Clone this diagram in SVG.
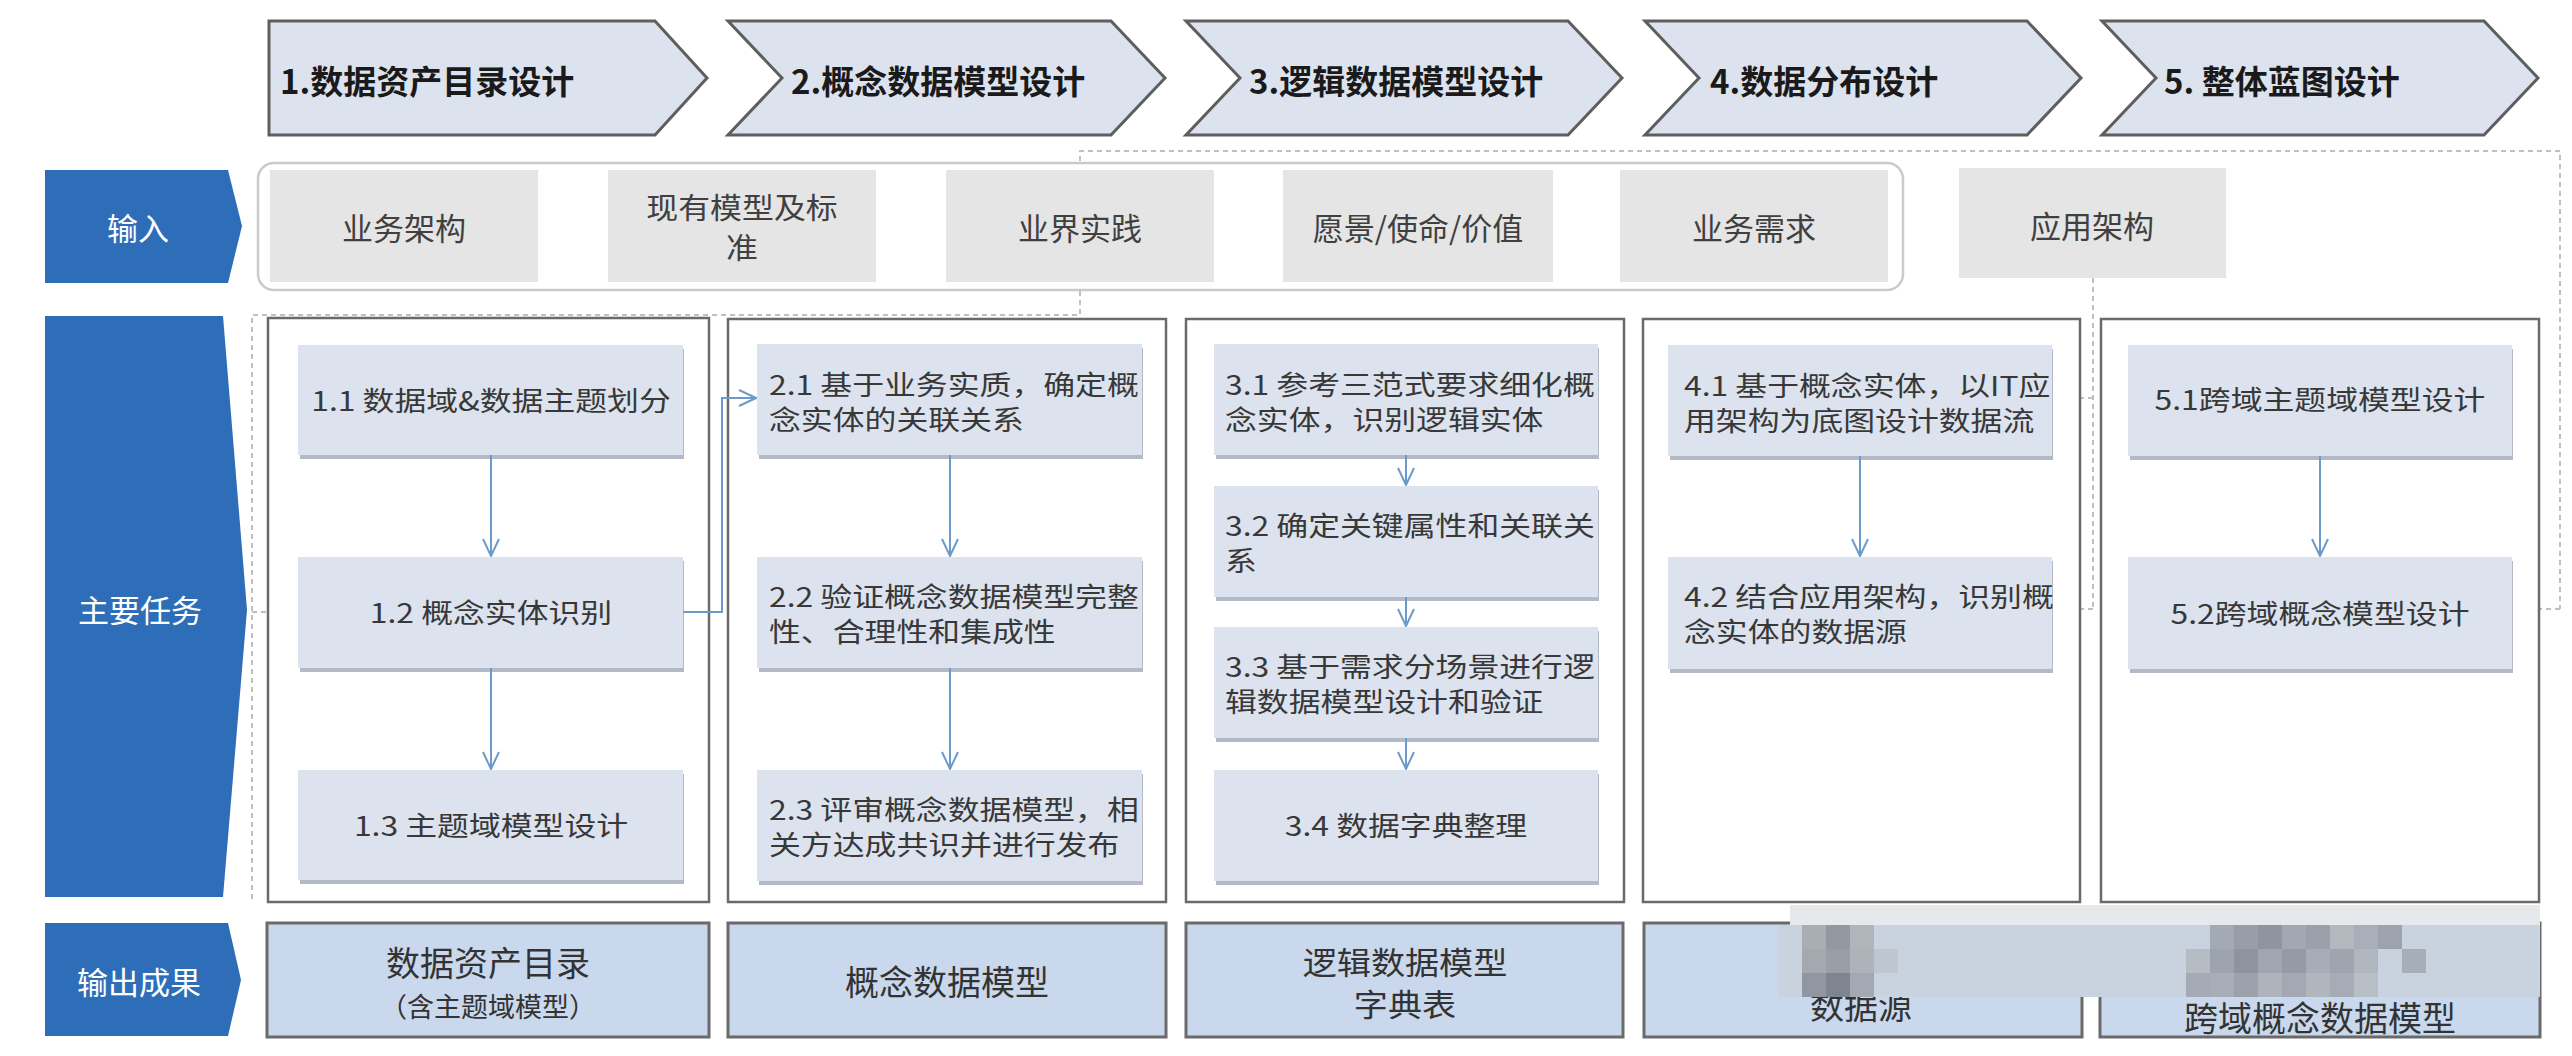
<svg xmlns="http://www.w3.org/2000/svg" width="2572" height="1056" viewBox="0 0 2572 1056">
<style>
text{font-family:"Noto Sans CJK SC","Noto Sans",sans-serif;}
.chev{fill:#DCE3EF;stroke:#5E5E5E;stroke-width:3;stroke-linejoin:miter;}
.htxt{font-size:33px;font-weight:700;fill:#1A1A1A;dominant-baseline:central;}
.blue{fill:#2E6EB8;}
.btxt{font-size:31px;fill:#FFFFFF;text-anchor:middle;dominant-baseline:central;}
.incont{fill:#FFFFFF;stroke:#CACACA;stroke-width:2.5;}
.inbox{fill:#E5E5E5;}
.intxt{font-size:31px;fill:#404040;text-anchor:middle;dominant-baseline:central;}
.in2{font-size:29px;}
.col{fill:#FFFFFF;stroke:#6A6A6A;stroke-width:2.5;}
.task{fill:#DCE3EE;}
.tsh{fill:#B3BAC5;}
.ttxt{font-size:27px;fill:#383838;dominant-baseline:central;}
.tc{text-anchor:middle;}
.out{fill:#C9D8EC;stroke:#6A6A6A;stroke-width:3;}
.otxt{font-size:34px;fill:#333333;text-anchor:middle;dominant-baseline:central;}
.o2l{font-size:31px;}
.osm{font-size:27px;}
.conn{stroke:#6C9BCB;stroke-width:2;fill:none;marker-end:url(#ab);}
.dash{stroke:#BFBFBF;stroke-width:2;stroke-dasharray:5 4;fill:none;}
.darr{marker-end:url(#ag);}
</style>
<defs>
<marker id="ab" viewBox="0 0 20 20" refX="19" refY="10" markerWidth="20" markerHeight="20" orient="auto" markerUnits="userSpaceOnUse">
<path d="M2,2 L19,10 L2,18" fill="none" stroke="#6C9BCB" stroke-width="2"/>
</marker>
<marker id="ag" viewBox="0 0 20 20" refX="19" refY="10" markerWidth="20" markerHeight="20" orient="auto" markerUnits="userSpaceOnUse">
<path d="M2,2 L19,10 L2,18" fill="none" stroke="#C4C4C4" stroke-width="2"/>
</marker>
</defs>
<rect width="2572" height="1056" fill="#FFFFFF"/>

<!-- header chevrons -->
<g id="h1"><path class="chev" d="M269,21 H655 L707,78 L655,135 H269 Z"/><text class="htxt" x="280" y="80">1.数据资产目录设计</text></g>
<g id="h2"><path class="chev" d="M728,21 H1111 L1165,78 L1111,135 H728 L782,78 Z"/><text class="htxt" x="791" y="80">2.概念数据模型设计</text></g>
<g id="h3"><path class="chev" d="M1186,21 H1568 L1622,78 L1568,135 H1186 L1240,78 Z"/><text class="htxt" x="1249" y="80">3.逻辑数据模型设计</text></g>
<g id="h4"><path class="chev" d="M1645,21 H2027 L2081,78 L2027,135 H1645 L1699,78 Z"/><text class="htxt" x="1710" y="80">4.数据分布设计</text></g>
<g id="h5"><path class="chev" d="M2102,21 H2484 L2538,78 L2484,135 H2102 L2156,78 Z"/><text class="htxt" x="2164" y="80">5. 整体蓝图设计</text></g>

<!-- row labels -->
<g id="lbl-input"><path class="blue" d="M45,170 H228 L242,226 L228,283 H45 Z"/><text class="btxt" x="138" y="226">输入</text></g>
<g id="lbl-task"><path class="blue" d="M45,316 H223 L247,610 L223,897 H45 Z"/><text class="btxt" x="140" y="608">主要任务</text></g>
<g id="lbl-output"><path class="blue" d="M45,923 H228 L241,980 L228,1036 H45 Z"/><text class="btxt" x="139" y="980">输出成果</text></g>

<!-- dashed feedback lines -->
<g id="connectors-dashed">
<path class="dash" d="M252,899 V315 H1080 V151 H2560 V609"/>
<path class="dash darr" d="M2560,609 H2514"/>
<path class="dash darr" d="M252,612 H296"/>
<path class="dash" d="M2093,278 V609"/>
<path class="dash darr" d="M2093,609 H2055"/>
<path class="dash darr" d="M2093,398 H2055"/>
</g>

<!-- inputs -->
<g id="input-container"><rect class="incont" x="258" y="163" width="1645" height="127" rx="16"/></g>
<g id="in1"><rect class="inbox" x="270" y="170" width="268" height="112"/><text class="intxt" x="404" y="226">业务架构</text></g>
<g id="in2"><rect class="inbox" x="608" y="170" width="268" height="112"/><text class="intxt in2" transform="translate(742,226) scale(1.1,1)"><tspan x="0" y="-19">现有模型及标</tspan><tspan x="0" y="21">准</tspan></text></g>
<g id="in3"><rect class="inbox" x="946" y="170" width="268" height="112"/><text class="intxt" x="1080" y="226">业界实践</text></g>
<g id="in4"><rect class="inbox" x="1283" y="170" width="270" height="112"/><text class="intxt" x="1418" y="226">愿景/使命/价值</text></g>
<g id="in5"><rect class="inbox" x="1620" y="170" width="268" height="112"/><text class="intxt" x="1754" y="226">业务需求</text></g>
<g id="in6"><rect class="inbox" x="1959" y="168" width="267" height="110"/><text class="intxt" x="2092" y="224">应用架构</text></g>

<!-- columns -->
<g id="col1"><rect class="col" x="268" y="318" width="441" height="584"/></g>
<g id="col2"><rect class="col" x="728" y="319" width="438" height="583"/></g>
<g id="col3"><rect class="col" x="1186" y="319" width="438" height="583"/></g>
<g id="col4"><rect class="col" x="1643" y="319" width="437" height="583"/></g>
<g id="col5"><rect class="col" x="2101" y="319" width="438" height="583"/></g>

<!-- task nodes -->
<g id="t11"><rect class="tsh" x="300" y="349" width="384" height="110"/><rect class="task" x="298" y="345" width="385" height="110"/><text class="ttxt tc" transform="translate(491,400) scale(1.18,1)">1.1 数据域&amp;数据主题划分</text></g>
<g id="t12"><rect class="tsh" x="300" y="561" width="384" height="111"/><rect class="task" x="298" y="557" width="385" height="111"/><text class="ttxt tc" transform="translate(491,612) scale(1.18,1)">1.2 概念实体识别</text></g>
<g id="t13"><rect class="tsh" x="300" y="774" width="384" height="110"/><rect class="task" x="298" y="770" width="385" height="110"/><text class="ttxt tc" transform="translate(491,825) scale(1.18,1)">1.3 主题域模型设计</text></g>

<g id="t21"><rect class="tsh" x="759" y="348" width="384" height="111"/><rect class="task" x="757" y="344" width="385" height="111"/><text class="ttxt" transform="translate(769,400) scale(1.18,1)"><tspan x="0" y="-17">2.1 基于业务实质，确定概</tspan><tspan x="0" y="18">念实体的关联关系</tspan></text></g>
<g id="t22"><rect class="tsh" x="759" y="561" width="384" height="111"/><rect class="task" x="757" y="557" width="385" height="111"/><text class="ttxt" transform="translate(769,612) scale(1.18,1)"><tspan x="0" y="-17">2.2 验证概念数据模型完整</tspan><tspan x="0" y="18">性、合理性和集成性</tspan></text></g>
<g id="t23"><rect class="tsh" x="759" y="774" width="384" height="111"/><rect class="task" x="757" y="770" width="385" height="111"/><text class="ttxt" transform="translate(769,825) scale(1.18,1)"><tspan x="0" y="-17">2.3 评审概念数据模型，相</tspan><tspan x="0" y="18">关方达成共识并进行发布</tspan></text></g>

<g id="t31"><rect class="tsh" x="1216" y="348" width="383" height="111"/><rect class="task" x="1214" y="344" width="384" height="111"/><text class="ttxt" transform="translate(1225,400) scale(1.18,1)"><tspan x="0" y="-17">3.1 参考三范式要求细化概</tspan><tspan x="0" y="18">念实体，识别逻辑实体</tspan></text></g>
<g id="t32"><rect class="tsh" x="1216" y="490" width="383" height="111"/><rect class="task" x="1214" y="486" width="384" height="111"/><text class="ttxt" transform="translate(1225,541) scale(1.18,1)"><tspan x="0" y="-17">3.2 确定关键属性和关联关</tspan><tspan x="0" y="18">系</tspan></text></g>
<g id="t33"><rect class="tsh" x="1216" y="631" width="383" height="111"/><rect class="task" x="1214" y="627" width="384" height="111"/><text class="ttxt" transform="translate(1225,682) scale(1.18,1)"><tspan x="0" y="-17">3.3 基于需求分场景进行逻</tspan><tspan x="0" y="18">辑数据模型设计和验证</tspan></text></g>
<g id="t34"><rect class="tsh" x="1216" y="774" width="383" height="111"/><rect class="task" x="1214" y="770" width="384" height="111"/><text class="ttxt tc" transform="translate(1406,825) scale(1.18,1)">3.4 数据字典整理</text></g>

<g id="t41"><rect class="tsh" x="1670" y="349" width="383" height="111"/><rect class="task" x="1668" y="345" width="384" height="111"/><text class="ttxt" transform="translate(1684,401) scale(1.18,1)"><tspan x="0" y="-17">4.1 基于概念实体，以IT应</tspan><tspan x="0" y="18">用架构为底图设计数据流</tspan></text></g>
<g id="t42"><rect class="tsh" x="1670" y="561" width="383" height="112"/><rect class="task" x="1668" y="557" width="384" height="112"/><text class="ttxt" transform="translate(1684,612) scale(1.18,1)"><tspan x="0" y="-17">4.2 结合应用架构，识别概</tspan><tspan x="0" y="18">念实体的数据源</tspan></text></g>

<g id="t51"><rect class="tsh" x="2130" y="349" width="383" height="111"/><rect class="task" x="2128" y="345" width="384" height="111"/><text class="ttxt tc" transform="translate(2320,399) scale(1.18,1)">5.1跨域主题域模型设计</text></g>
<g id="t52"><rect class="tsh" x="2130" y="561" width="383" height="112"/><rect class="task" x="2128" y="557" width="384" height="112"/><text class="ttxt tc" transform="translate(2320,613) scale(1.18,1)">5.2跨域概念模型设计</text></g>

<!-- outputs -->
<g id="o1"><rect class="out" x="267" y="923" width="442" height="114"/><text class="otxt" x="488" y="961">数据资产目录</text><text class="otxt osm" x="488" y="1005">（含主题域模型）</text></g>
<g id="o2"><rect class="out" x="728" y="923" width="438" height="114"/><text class="otxt" x="947" y="980">概念数据模型</text></g>
<g id="o3"><rect class="out" x="1186" y="923" width="437" height="114"/><text class="otxt o2l" transform="translate(1405,981) scale(1.1,1)"><tspan x="0" y="-21">逻辑数据模型</tspan><tspan x="0" y="21">字典表</tspan></text></g>
<g id="o4"><rect class="out" x="1644" y="923" width="438" height="114"/><text class="otxt" x="1861" y="1004">数据源</text></g>
<g id="o5"><rect class="out" x="2100" y="923" width="440" height="114"/><text class="otxt" x="2320" y="1016">跨域概念数据模型</text></g>

<!-- blue connectors -->
<g id="connectors">
<path class="conn" d="M491,455 V556"/>
<path class="conn" d="M491,668 V769"/>
<path class="conn" d="M683,612 H722 V398 H756"/>
<path class="conn" d="M950,455 V556"/>
<path class="conn" d="M950,668 V769"/>
<path class="conn" d="M1406,455 V485"/>
<path class="conn" d="M1406,597 V626"/>
<path class="conn" d="M1406,738 V769"/>
<path class="conn" d="M1860,456 V556"/>
<path class="conn" d="M2320,456 V556"/>
</g>

<!-- mosaic patch as in the picture -->
<g id="mosaic">
<rect x="1790" y="905" width="750" height="20" fill="#E6E8EB"/>
<rect x="1778" y="925" width="762" height="72" fill="#C9D3E0"/>
<rect x="1802" y="925" width="24" height="24" fill="#A9AEB5"/><rect x="1826" y="925" width="24" height="24" fill="#9499A1"/><rect x="1850" y="925" width="24" height="24" fill="#B0B5BC"/>
<rect x="2210" y="925" width="24" height="24" fill="#A4AAB3"/><rect x="2234" y="925" width="24" height="24" fill="#989EA7"/><rect x="2258" y="925" width="24" height="24" fill="#8F959F"/><rect x="2282" y="925" width="24" height="24" fill="#A2A8B1"/><rect x="2306" y="925" width="24" height="24" fill="#9AA1AB"/><rect x="2330" y="925" width="24" height="24" fill="#B3B8BF"/><rect x="2354" y="925" width="24" height="24" fill="#A9AFB8"/><rect x="2378" y="925" width="24" height="24" fill="#9DA3AC"/>
<rect x="1802" y="949" width="24" height="24" fill="#A4A9B0"/><rect x="1826" y="949" width="24" height="24" fill="#9A9FA7"/><rect x="1850" y="949" width="24" height="24" fill="#AEB3BA"/><rect x="1874" y="949" width="24" height="24" fill="#BFC6CF"/>
<rect x="2186" y="949" width="24" height="24" fill="#B6BCC4"/><rect x="2210" y="949" width="24" height="24" fill="#9EA4AD"/><rect x="2234" y="949" width="24" height="24" fill="#8E949E"/><rect x="2258" y="949" width="24" height="24" fill="#A0A6AF"/><rect x="2282" y="949" width="24" height="24" fill="#959BA5"/><rect x="2306" y="949" width="24" height="24" fill="#A7ADB6"/><rect x="2330" y="949" width="24" height="24" fill="#9FA5AE"/><rect x="2354" y="949" width="24" height="24" fill="#B1B7BF"/><rect x="2402" y="949" width="24" height="24" fill="#A8AEB7"/>
<rect x="1802" y="973" width="24" height="24" fill="#9197A0"/><rect x="1826" y="973" width="24" height="24" fill="#7F858F"/><rect x="1850" y="973" width="24" height="24" fill="#A3A9B2"/>
<rect x="2186" y="973" width="24" height="24" fill="#A5ABB4"/><rect x="2210" y="973" width="24" height="24" fill="#A8AEB7"/><rect x="2234" y="973" width="24" height="24" fill="#9CA2AB"/><rect x="2258" y="973" width="24" height="24" fill="#AEB4BC"/><rect x="2282" y="973" width="24" height="24" fill="#A3A9B2"/><rect x="2306" y="973" width="24" height="24" fill="#B0B6BE"/><rect x="2330" y="973" width="24" height="24" fill="#A6ACB5"/><rect x="2354" y="973" width="24" height="24" fill="#B8BEC6"/>
</g>
</svg>
